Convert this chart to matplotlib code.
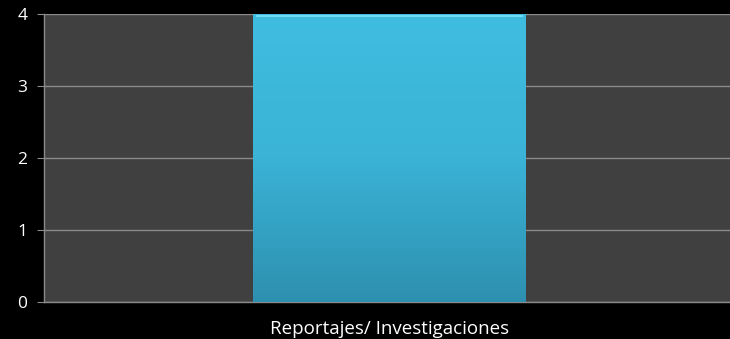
import matplotlib.pyplot as plt
import numpy as np
from matplotlib.colors import LinearSegmentedColormap

categories = ['Reportajes/ Investigaciones']
values = [4]
yticks = [0, 1, 2, 3, 4]

plt.rcParams['font.family'] = ['Open Sans', 'DejaVu Sans']

fig = plt.figure(figsize=(7.3, 3.39), dpi=100)
fig.patch.set_facecolor('black')
ax = fig.add_axes([0.0603, 0.109, 0.9397, 0.8496])
ax.set_facecolor('#404040')

x = np.arange(len(categories))
width = 0.4
bars = ax.bar(x, values, width, color='none', edgecolor='none', zorder=3)

# vertical gradient fill for each bar
cmap = LinearSegmentedColormap.from_list('blu', ['#2e90b0', '#3ab3d6', '#3fbde0'])
grad = np.linspace(0, 1, 256).reshape(-1, 1)
for b in bars:
    x0, w, h = b.get_x(), b.get_width(), b.get_height()
    ax.imshow(grad, extent=(x0, x0 + w, 0, h), origin='lower', cmap=cmap,
              aspect='auto', zorder=3)
    ax.plot([x0 + 0.005, x0 + w - 0.005], [h - 0.03, h - 0.03], color='#6fdcf5',
            lw=1.5, zorder=4)

ax.set_xlim(-0.507, len(categories) - 0.5)
ax.set_ylim(0, 4)
ax.set_yticks(yticks)
ax.set_xticks(x)
ax.set_xticklabels(categories)
ax.grid(axis='y', color='#8a8a8a', lw=1, zorder=1)
ax.set_axisbelow(True)

for s in ['top', 'right']:
    ax.spines[s].set_visible(False)
for s in ['left', 'bottom']:
    ax.spines[s].set_color('#8a8a8a')
    ax.spines[s].set_linewidth(1)

ax.tick_params(axis='y', colors='#8a8a8a', labelcolor='white', labelsize=12.5,
               length=5, direction='out', pad=7)
ax.tick_params(axis='x', length=0, labelcolor='white', labelsize=13.5, pad=13)

fig.savefig('out.png', dpi=100, facecolor='black')
